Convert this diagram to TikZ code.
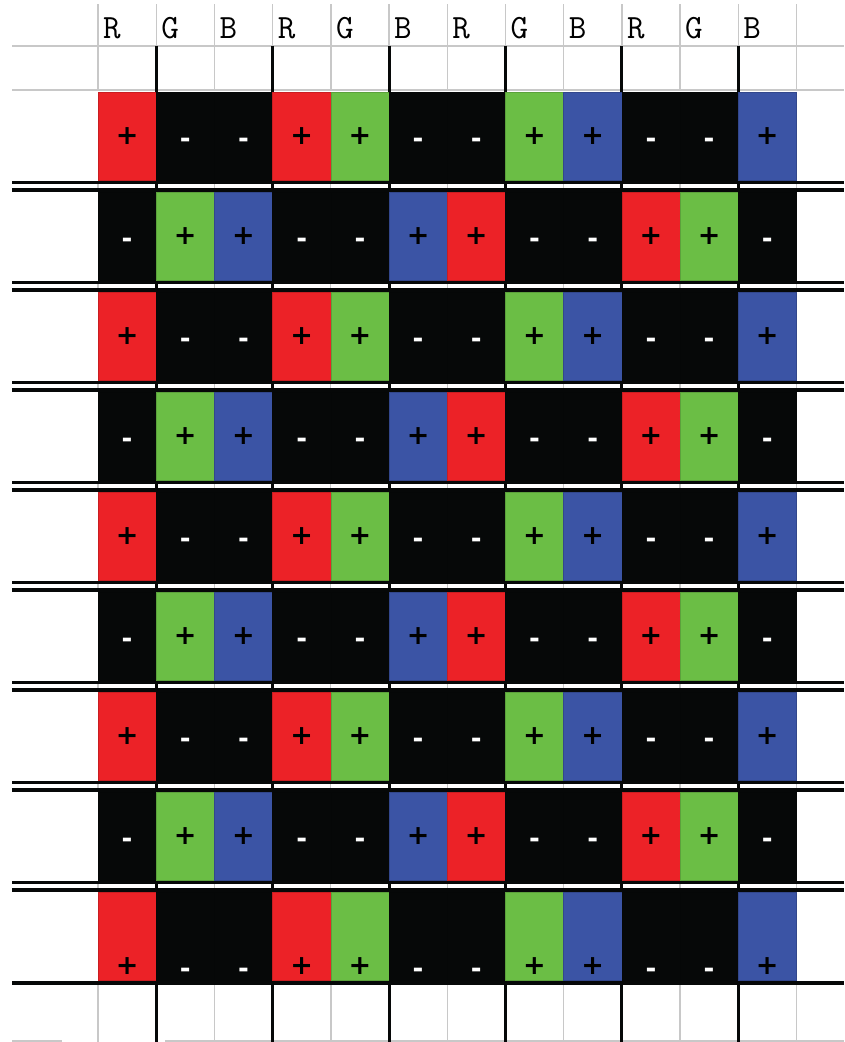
\documentclass[tikz,border=0pt]{standalone}
\usepackage{xcolor}
\usepackage{fontspec}
\usepackage{tikz}
\usetikzlibrary{positioning}
\newfontfamily\signfont{DejaVu Sans}
\definecolor{pxred}{HTML}{EC2227}
\definecolor{pxgreen}{HTML}{6BBE45}
\definecolor{pxblue}{HTML}{3B54A5}
\definecolor{pxblack}{HTML}{060808}
\definecolor{gridgray}{HTML}{C8C8C8}

\begin{document}
\begin{tikzpicture}[
  x=1pt, y=-1pt,
  gridline/.style={draw=gridgray, line width=1.4pt},
  busline/.style={draw=pxblack, line width=3pt},
  cellbox/.style={draw=#1!85!black, fill=#1, line width=0.6pt,
    minimum width=58.2pt, minimum height=88pt, inner sep=0pt, outer sep=0pt},
  plussign/.style={font=\signfont\bfseries\fontsize{27}{27}\selectfont,
    text=black, inner sep=0pt, anchor=base, yshift=-8pt},
  minussign/.style={font=\signfont\bfseries\fontsize{26}{26}\selectfont,
    text=white, inner sep=0pt, anchor=base, yshift=-11pt},
  hdr/.style={font=\ttfamily\fontsize{34}{34}\selectfont, inner sep=0pt,
    anchor=base west},
]
  \useasboundingbox (0,0) rectangle (844,1042);

  % header grid
  \draw[gridline] (12,46) -- (844,46);
  \draw[gridline] (12,90) -- (844,90);
  \foreach \c in {0,...,12} {
    \draw[gridline] ({98+58.2*\c},4) -- ({98+58.2*\c},90);
    \draw[gridline] ({98+58.2*\c},984) -- ({98+58.2*\c},1042);
  }
  \draw[gridline] (12,1041) -- (62,1041);
  \draw[gridline] (165,1041) -- (844,1041);
  \foreach \c/\ch in {1/R,2/G,3/B,4/R,5/G,6/B,7/R,8/G,9/B,10/R,11/G,12/B}
    \node[hdr] (h\c) at ({98+58.2*(\c-1)+5},38) {\ch};

  % sub-pixels with polarity
  \foreach \r in {1,...,9} {
    \foreach \c/\pxcol in {1/pxred,2/pxgreen,3/pxblue,4/pxred,5/pxgreen,6/pxblue,
                           7/pxred,8/pxgreen,9/pxblue,10/pxred,11/pxgreen,12/pxblue} {
      \pgfmathtruncatemacro{\pol}{mod(floor(\c/2)+\r+1,2)}
      \pgfmathsetmacro{\sy}{\r==9 ? 30 : 0}
      \ifnum\pol=0
        \node[cellbox=\pxcol] (c-\r-\c) at ({98+58.2*(\c-0.5)},{136+100*(\r-1)}) {};
        \node[plussign, yshift=-\sy pt] at (c-\r-\c.center) {+};
      \else
        \node[cellbox=pxblack] (c-\r-\c) at ({98+58.2*(\c-0.5)},{136+100*(\r-1)}) {};
        \node[minussign, yshift=-\sy pt] at (c-\r-\c.center) {-};
      \fi
    }
  }

  % double lines between rows
  \foreach \k in {1,...,8} {
    \pgfmathsetmacro{\yo}{180+100*(\k-1)}
    \fill[pxblack] (12,\yo+0.5) rectangle (844,\yo+11.5);
    \fill[white] (12,\yo+4) rectangle (844,\yo+8);
    \foreach \c in {0,2,4,6,8,10,12}
      \draw[gridgray, line width=1.2pt] ({98+58.2*\c},\yo+4) -- ({98+58.2*\c},\yo+8);
    \foreach \c in {1,3,5,7,9,11}
      \draw[busline] ({98+58.2*\c},\yo+1) -- ({98+58.2*\c},\yo+11);
  }
  \fill[pxblack] (12,981) rectangle (844,984.5);

  % column buses
  \foreach \c in {1,3,5,7,9,11} {
    \draw[busline] ({98+58.2*\c},46) -- ({98+58.2*\c},92);
    \draw[busline] ({98+58.2*\c},984) -- ({98+58.2*\c},1042);
  }
\end{tikzpicture}
\end{document}
